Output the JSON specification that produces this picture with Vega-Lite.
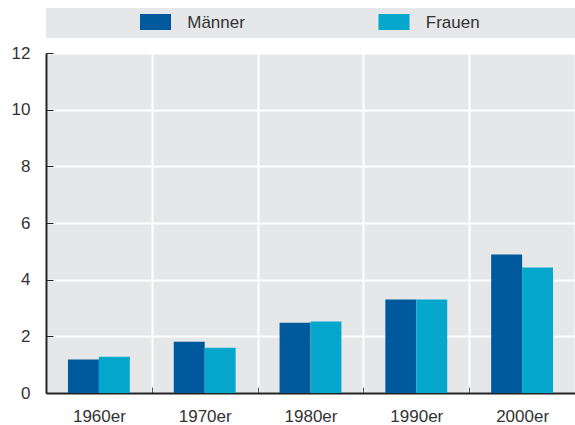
{
  "$schema": "https://vega.github.io/schema/vega-lite/v6.json",
  "padding": {"top": 8, "left": 11, "right": 0, "bottom": 0},
  "spacing": 6,
  "config": {
    "font": "Liberation Sans",
    "view": {"stroke": null, "fill": "#e6e7e9"}
  },
  "datasets": {
    "rates": [
      {"decade": "1960er", "sex": "Männer", "value": 1.18},
      {"decade": "1960er", "sex": "Frauen", "value": 1.28},
      {"decade": "1970er", "sex": "Männer", "value": 1.81},
      {"decade": "1970er", "sex": "Frauen", "value": 1.6},
      {"decade": "1980er", "sex": "Männer", "value": 2.48},
      {"decade": "1980er", "sex": "Frauen", "value": 2.52},
      {"decade": "1990er", "sex": "Männer", "value": 3.3},
      {"decade": "1990er", "sex": "Frauen", "value": 3.3},
      {"decade": "2000er", "sex": "Männer", "value": 4.89},
      {"decade": "2000er", "sex": "Frauen", "value": 4.43}
    ],
    "legend": [{"sex": "Männer"}, {"sex": "Frauen"}]
  },
  "vconcat": [
    {
      "width": 529,
      "height": 30,
      "data": {"name": "legend"},
      "layer": [
        {
          "mark": {"type": "point", "shape": "M-1.94,-1H1.94V1H-1.94Z", "size": 256, "filled": true, "opacity": 1, "strokeWidth": 0, "xOffset": -35.75, "yOffset": -1},
          "encoding": {
            "x": {"field": "sex", "type": "nominal", "sort": ["Männer", "Frauen"], "scale": {"type": "point", "padding": 0.609}, "axis": null},
            "color": {"field": "sex", "type": "nominal", "scale": {"domain": ["Männer", "Frauen"], "range": ["#00589d", "#05a8cc"]}, "legend": null}
          }
        },
        {
          "mark": {"type": "text", "align": "left", "baseline": "middle", "dx": -4, "fontSize": 17, "color": "#333333"},
          "encoding": {
            "x": {"field": "sex", "type": "nominal", "sort": ["Männer", "Frauen"], "scale": {"type": "point", "padding": 0.609}, "axis": null},
            "text": {"field": "sex"}
          }
        }
      ]
    },
    {
      "width": 529,
      "height": 340,
      "data": {"name": "rates"},
      "mark": {"type": "bar"},
      "encoding": {
        "x": {
          "field": "decade", "type": "nominal", "title": null,
          "scale": {"paddingInner": 0, "paddingOuter": 0},
          "axis": {
            "labelAngle": 0, "labelFontSize": 17, "labelColor": "#333333", "labelPadding": 21,
            "tickBand": "extent", "grid": true, "gridColor": "#ffffff", "gridWidth": 2,
            "ticks": true, "tickSize": -6, "tickColor": "#555555", "tickWidth": 1,
            "domainColor": "#222222", "domainWidth": 2
          }
        },
        "xOffset": {"field": "sex", "type": "nominal", "sort": ["Männer", "Frauen"], "scale": {"paddingInner": 0, "paddingOuter": 0.71}},
        "y": {
          "field": "value", "type": "quantitative", "title": null,
          "scale": {"domain": [0, 12]},
          "axis": {
            "values": [0, 2, 4, 6, 8, 10, 12], "labelFontSize": 17, "labelColor": "#333333", "labelPadding": 23,
            "grid": true, "gridColor": "#ffffff", "gridWidth": 2,
            "tickSize": -7, "tickColor": "#222222", "tickWidth": 1,
            "domainColor": "#222222", "domainWidth": 2
          }
        },
        "color": {"field": "sex", "type": "nominal", "scale": {"domain": ["Männer", "Frauen"], "range": ["#00589d", "#05a8cc"]}, "legend": null}
      }
    }
  ]
}
